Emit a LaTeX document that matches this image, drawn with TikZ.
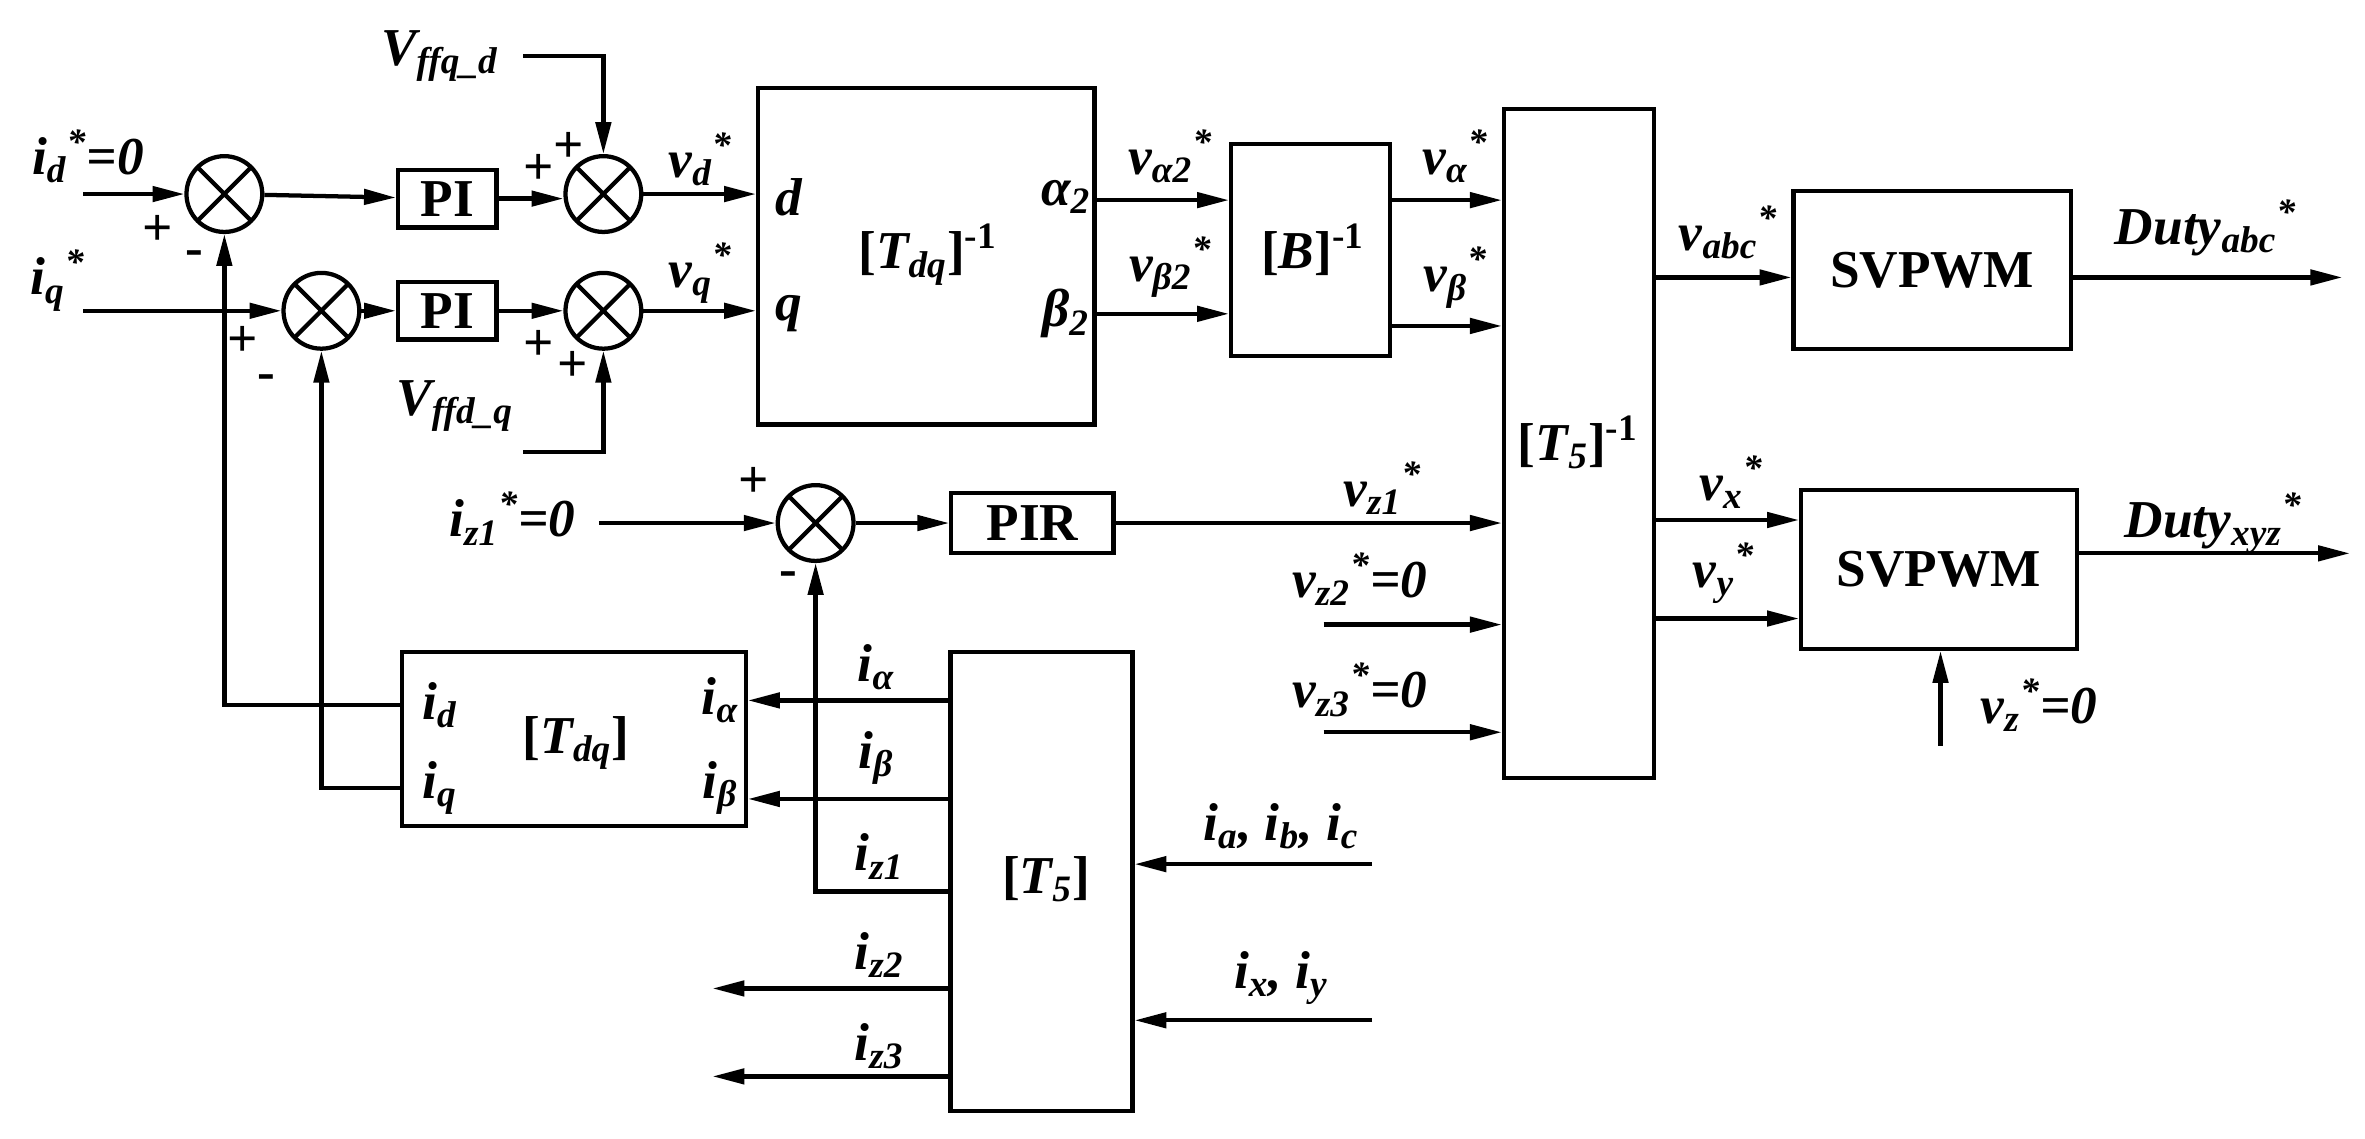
\documentclass[tikz,border=0pt]{standalone}
\usepackage{fontspec}
\setmainfont{Liberation Serif}
\usetikzlibrary{arrows.meta}
\newcommand\dnx[1]{\textsubscript{#1}}
\newcommand\upx[1]{\textsuperscript{#1}}
\newcommand\dux[2]{\textsubscript{#1}\textsuperscript{#2}}
\newcommand\lbr{{\upshape[}}
\newcommand\rbr{{\upshape]}}
\begin{document}
\begin{tikzpicture}[x=0.02cm,y=-0.02cm,line width=1.6pt,
  >={Triangle[length=0.42cm,width=0.2cm]},
  blk/.style={draw,line width=1.6pt,inner sep=0},
  sum/.style={draw,circle,minimum size=1cm,inner sep=0,line width=1.6pt,
    path picture={\draw[line width=1.6pt] (path picture bounding box.center)+(-0.36cm,-0.36cm)--+(0.36cm,0.36cm) (path picture bounding box.center)+(-0.36cm,0.36cm)--+(0.36cm,-0.36cm);}},
  lb/.style={font=\fontsize{20}{24}\selectfont\bfseries\itshape,inner sep=1pt},
  up/.style={font=\fontsize{20}{24}\selectfont\bfseries,inner sep=1pt}]
\useasboundingbox (0,0) rectangle (1560,751);
% blocks
\node[sum] (s1) at (148,128) {};
\node[sum] (s2) at (212,205) {};
\node[sum] (s3) at (398,128) {};
\node[sum] (s4) at (398,205) {};
\node[sum] (s5) at (538,345) {};
\node[blk,minimum width=1.3cm,minimum height=0.76cm,up] (pi1) at (295,131) {PI};
\node[blk,minimum width=1.3cm,minimum height=0.76cm,up] (pi2) at (295,205) {PI};
\node[blk,minimum width=2.14cm,minimum height=0.8cm,up] (pir) at (681,345) {PIR};
\node[blk,minimum width=4.44cm,minimum height=4.44cm] (tdqi) at (611,169) {};
\node[blk,minimum width=2.1cm,minimum height=2.8cm] (bi) at (864.5,165) {};
\node[blk,minimum width=1.98cm,minimum height=8.82cm] (t5i) at (1041.5,292.5) {};
\node[blk,minimum width=3.66cm,minimum height=2.08cm,up] (sv1) at (1274.5,178) {SVPWM};
\node[blk,minimum width=3.64cm,minimum height=2.1cm,up] (sv2) at (1279,375.5) {SVPWM};
\node[blk,minimum width=4.54cm,minimum height=2.3cm] (tdq) at (378.5,487.5) {};
\node[blk,minimum width=2.4cm,minimum height=6.06cm] (t5) at (687,581.5) {};
% inner labels
\node[lb] at (520,130) {d};
\node[lb] at (520,207) {q};
\node[lb] at (612,168) {\lbr T\dnx{dq}\rbr\upx{\upshape -1}};
\node[lb] at (703,130) {α\dnx{2}};
\node[lb] at (703,207) {β\dnx{2}};
\node[lb] at (866,165) {\lbr B\rbr\upx{\upshape -1}};
\node[lb] at (1041,292) {\lbr T\dnx{5}\rbr\upx{\upshape -1}};
\node[lb] at (290,465) {i\dnx{d}};
\node[lb] at (290,520) {i\dnx{q}};
\node[lb] at (380,490) {\lbr T\dnx{dq}\rbr};
\node[lb] at (475,462) {i\dnx{α}};
\node[lb] at (475,520) {i\dnx{β}};
\node[lb] at (690,580) {\lbr T\dnx{5}\rbr};
% coordinates
\coordinate (idin) at (55,128);
\coordinate (iqin) at (55,205);
\coordinate (vfq) at (345,37);
\coordinate (vfd) at (345,298);
\coordinate (iz1in) at (395,345);
\coordinate (vz2in) at (873,412);
\coordinate (vz3in) at (873,483);
\coordinate (vzin) at (1280,492);
\coordinate (iabc) at (905,570);
\coordinate (ixy) at (905,673);
\coordinate (iz2o) at (470,652);
\coordinate (iz3o) at (470,710);
\coordinate (dabc) at (1545,183);
\coordinate (dxyz) at (1550,365);
% connectors
\draw[->] (idin) -- (s1.west);
\draw[->] (iqin) -- (s2.west);
\draw[->] (s1) -- (pi1);
\draw[->] (s2) -- (pi2);
\draw[->] (pi1) -- (s3.west|-pi1);
\draw[->] (pi2) -- (s4);
\draw[->] (vfq) -| (s3.north);
\draw[->] (vfd) -| (s4.south);
\draw[->] (s3) -- (tdqi.west|-s3);
\draw[->] (s4) -- (tdqi.west|-s4);
\draw[->] (tdqi.east|-0,132) -- (bi.west|-0,132);
\draw[->] (tdqi.east|-0,207) -- (bi.west|-0,207);
\draw[->] (bi.east|-0,132) -- (t5i.west|-0,132);
\draw[->] (bi.east|-0,215) -- (t5i.west|-0,215);
\draw[->] (t5i.east|-0,183) -- (sv1.west|-0,183);
\draw[->] (sv1.east|-0,183) -- (dabc);
\draw[->] (t5i.east|-0,343) -- (sv2.west|-0,343);
\draw[->] (t5i.east|-0,408) -- (sv2.west|-0,408);
\draw[->] (sv2.east|-0,365) -- (dxyz);
\draw[->] (vzin) -- (sv2.south-|vzin);
\draw[->] (iz1in) -- (s5.west);
\draw[->] (s5) -- (pir);
\draw[->] (pir) -- (t5i.west|-pir);
\draw[->] (vz2in) -- (t5i.west|-vz2in);
\draw[->] (vz3in) -- (t5i.west|-vz3in);
\draw[->] (iabc) -- (t5.east|-iabc);
\draw[->] (ixy) -- (t5.east|-ixy);
\draw[->] (t5.west|-0,462) -- (tdq.east|-0,462);
\draw[->] (t5.west|-0,527) -- (tdq.east|-0,527);
\draw[->] (t5.west|-0,588) -| (s5.south);
\draw[->] (t5.west|-iz2o) -- (iz2o);
\draw[->] (t5.west|-iz3o) -- (iz3o);
\draw[->] (tdq.west|-0,465) -| (s1.south);
\draw[->] (tdq.west|-0,520) -| (s2.south);
% signal labels
\node[lb] at (58,103) {i\dux{d}{*}=0};
\node[lb] at (38,185) {i\dux{q}{*}};
\node[up] at (104,152) {+};
\node[up] at (128,170) {-};
\node[up] at (160,225) {+};
\node[up] at (176,252) {-};
\node[lb] at (290,37) {V\dnx{ffq\_d}};
\node[lb] at (300,268) {V\dnx{ffd\_q}};
\node[up] at (355,112) {+};
\node[up] at (375,97) {+};
\node[up] at (355,228) {+};
\node[up] at (378,242) {+};
\node[lb] at (462,105) {v\dux{d}{*}};
\node[lb] at (462,180) {v\dux{q}{*}};
\node[lb] at (772,103) {v\dux{α2}{*}};
\node[lb] at (772,176) {v\dux{β2}{*}};
\node[lb] at (960,103) {v\dux{α}{*}};
\node[lb] at (960,183) {v\dux{β}{*}};
\node[lb] at (1140,153) {v\dux{abc}{*}};
\node[lb] at (1455,150) {Duty\dux{abc}{*}};
\node[lb] at (1142,318) {v\dux{x}{*}};
\node[lb] at (1137,378) {v\dux{y}{*}};
\node[lb] at (1460,345) {Duty\dux{xyz}{*}};
\node[lb] at (1345,465) {v\dux{z}{*}=0};
\node[lb] at (338,342) {i\dux{z1}{*}=0};
\node[up] at (497,318) {+};
\node[up] at (520,382) {-};
\node[lb] at (912,322) {v\dux{z1}{*}};
\node[lb] at (897,382) {v\dux{z2}{*}=0};
\node[lb] at (897,455) {v\dux{z3}{*}=0};
\node[lb] at (578,440) {i\dnx{α}};
\node[lb] at (578,500) {i\dnx{β}};
\node[lb] at (580,565) {i\dnx{z1}};
\node[lb] at (580,630) {i\dnx{z2}};
\node[lb] at (580,690) {i\dnx{z3}};
\node[lb] at (845,545) {i\dnx{a}, i\dnx{b}, i\dnx{c}};
\node[lb] at (845,645) {i\dnx{x}, i\dnx{y}};
\end{tikzpicture}
\end{document}
